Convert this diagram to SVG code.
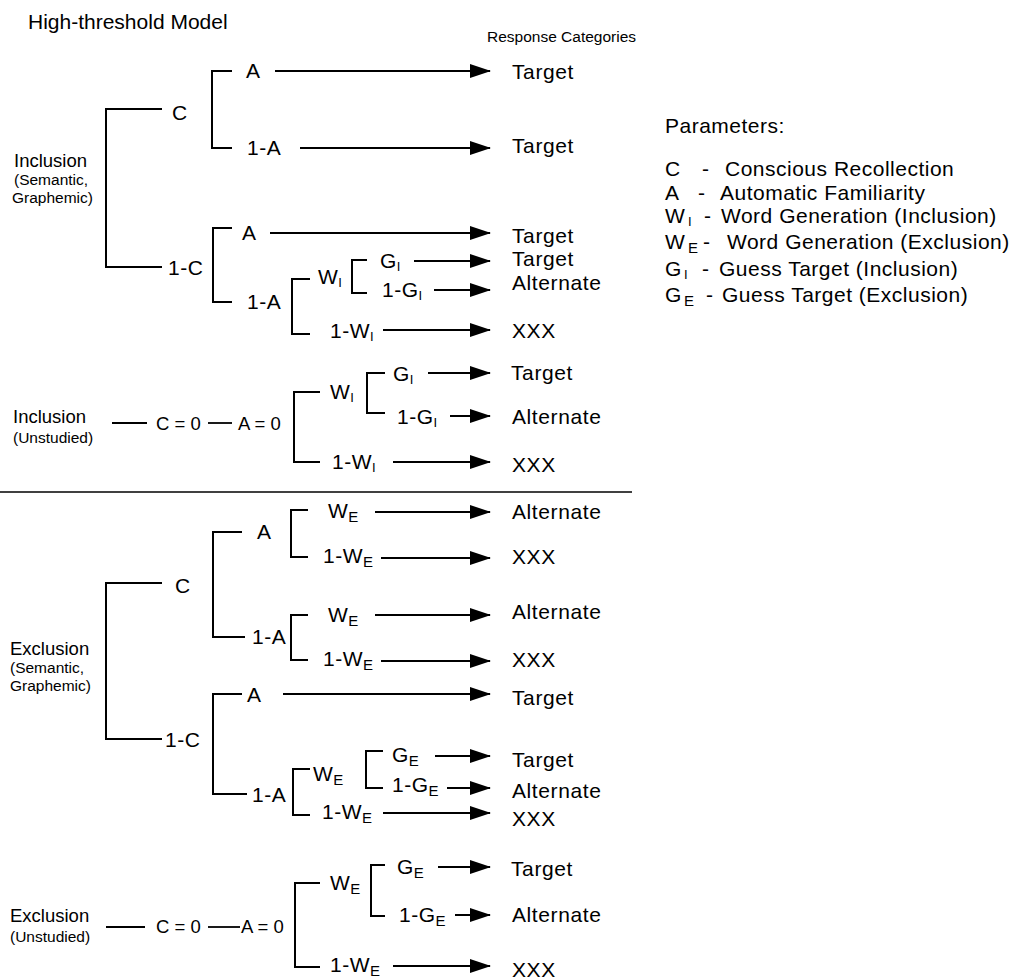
<svg xmlns="http://www.w3.org/2000/svg" width="1017" height="980" viewBox="0 0 1017 980">
<style>
text{font-family:"Liberation Sans",Arial,Helvetica,sans-serif;fill:#000}
.lb{font-size:21px;letter-spacing:0.5px}
.rs{font-size:21px;letter-spacing:0.6px}
.sm{font-size:18.5px}
.xs{font-size:15.5px}
.sub{font-size:13px}
.sube{font-size:15px}
.pr{font-size:21px;letter-spacing:0.5px}
.br{fill:none;stroke:#000;stroke-width:2}
.ln{fill:none;stroke:#000;stroke-width:1.8}
.ar{fill:none;stroke:#000;stroke-width:1.8;marker-end:url(#ah)}
</style>
<defs>
<marker id="ah" markerWidth="21" markerHeight="14" refX="20" refY="7" orient="auto" markerUnits="userSpaceOnUse"><path d="M0,0 L21,7 L0,14 z" fill="#000"/></marker>
</defs>
<rect width="1017" height="980" fill="#fff"/>
<g id="title"><text x="28" y="29" style="font-size:21px">High-threshold Model</text></g>
<g id="resp-header"><text x="487" y="42" style="font-size:15.5px">Response Categories</text></g>

<g id="connectors">
<!-- Inclusion studied -->
<path class="br" d="M162,109 H106 V267 H162"/>
<path class="br" d="M232,71 H212 V148 H232"/>
<path class="br" d="M232,228 H213 V302 H232"/>
<path class="br" d="M310,279 H292 V334 H310"/>
<path class="br" d="M367,260 H352 V293 H367"/>
<line class="ar" x1="275" y1="71" x2="490" y2="71"/>
<line class="ar" x1="300" y1="148" x2="490" y2="148"/>
<line class="ar" x1="270" y1="233" x2="490" y2="233"/>
<line class="ar" x1="414" y1="261" x2="490" y2="261"/>
<line class="ar" x1="434" y1="290" x2="490" y2="290"/>
<line class="ar" x1="383" y1="330" x2="490" y2="330"/>
<!-- Inclusion unstudied -->
<line class="ln" x1="112" y1="423" x2="147" y2="423"/>
<line class="ln" x1="208" y1="423" x2="232" y2="423"/>
<path class="br" d="M320,392 H294 V462 H320"/>
<path class="br" d="M385,373 H367 V413 H385"/>
<line class="ar" x1="428" y1="373" x2="490" y2="373"/>
<line class="ar" x1="450" y1="416" x2="490" y2="416"/>
<line class="ar" x1="393" y1="462" x2="490" y2="462"/>
<!-- separator -->
<line x1="0" y1="492" x2="632" y2="492" stroke="#000" stroke-width="1.5"/>
<!-- Exclusion studied -->
<path class="br" d="M162,583 H106 V739 H162"/>
<path class="br" d="M242,532 H213 V637 H245"/>
<path class="br" d="M308,510 H291 V557 H308"/>
<path class="br" d="M308,615 H291 V660 H308"/>
<line class="ar" x1="375" y1="512" x2="490" y2="512"/>
<line class="ar" x1="381" y1="558" x2="490" y2="558"/>
<line class="ar" x1="375" y1="615" x2="490" y2="615"/>
<line class="ar" x1="381" y1="661" x2="490" y2="661"/>
<path class="br" d="M242,694 H213 V794 H247"/>
<path class="br" d="M310,769 H293 V815 H310"/>
<path class="br" d="M383,751 H366 V788 H383"/>
<line class="ar" x1="283" y1="694" x2="490" y2="694"/>
<line class="ar" x1="435" y1="756" x2="490" y2="756"/>
<line class="ar" x1="447" y1="788" x2="490" y2="788"/>
<line class="ar" x1="383" y1="813" x2="490" y2="813"/>
<!-- Exclusion unstudied -->
<line class="ln" x1="106" y1="927" x2="145" y2="927"/>
<line class="ln" x1="208" y1="927" x2="240" y2="927"/>
<path class="br" d="M320,883 H295 V967 H320"/>
<path class="br" d="M385,865 H371 V916 H385"/>
<line class="ar" x1="438" y1="867" x2="490" y2="867"/>
<line class="ar" x1="455" y1="915" x2="490" y2="915"/>
<line class="ar" x1="393" y1="966" x2="490" y2="966"/>
</g>

<!-- Inclusion studied nodes -->
<g id="incl-studied"><text class="sm" x="14" y="167">Inclusion</text><text class="xs" x="14" y="185">(Semantic,</text><text class="xs" x="12" y="203">Graphemic)</text></g>
<g id="i-C"><text class="lb" x="172" y="120">C</text></g>
<g id="i-1C"><text class="lb" x="168" y="275">1-C</text></g>
<g id="i-C-A"><text class="lb" x="246" y="78">A</text></g>
<g id="i-C-1A"><text class="lb" x="247" y="155">1-A</text></g>
<g id="i-1C-A"><text class="lb" x="242" y="240">A</text></g>
<g id="i-1C-1A"><text class="lb" x="247" y="309">1-A</text></g>
<g id="i-WI"><text class="lb" x="318" y="284">W<tspan class="sub" dy="3">I</tspan></text></g>
<g id="i-GI"><text class="lb" x="380" y="268">G<tspan class="sub" dy="3">I</tspan></text></g>
<g id="i-1GI"><text class="lb" x="382" y="297">1-G<tspan class="sub" dy="3">I</tspan></text></g>
<g id="i-1WI"><text class="lb" x="330" y="338">1-W<tspan class="sub" dy="3">I</tspan></text></g>
<g id="r1"><text class="rs" x="512" y="79">Target</text></g>
<g id="r2"><text class="rs" x="512" y="153">Target</text></g>
<g id="r3"><text class="rs" x="512" y="243">Target</text></g>
<g id="r4"><text class="rs" x="512" y="266">Target</text></g>
<g id="r5"><text class="rs" x="512" y="289.5">Alternate</text></g>
<g id="r6"><text class="rs" x="512" y="338">XXX</text></g>

<!-- Inclusion unstudied -->
<g id="incl-unstudied"><text class="sm" x="13" y="423">Inclusion</text><text class="xs" x="13" y="443">(Unstudied)</text></g>
<g id="iu-C0"><text class="sm" x="156" y="430">C = 0</text></g>
<g id="iu-A0"><text class="sm" x="238" y="430">A = 0</text></g>
<g id="iu-WI"><text class="lb" x="330" y="399">W<tspan class="sub" dy="3">I</tspan></text></g>
<g id="iu-GI"><text class="lb" x="393" y="381">G<tspan class="sub" dy="3">I</tspan></text></g>
<g id="iu-1GI"><text class="lb" x="397" y="424">1-G<tspan class="sub" dy="3">I</tspan></text></g>
<g id="iu-1WI"><text class="lb" x="332" y="469">1-W<tspan class="sub" dy="3">I</tspan></text></g>
<g id="r7"><text class="rs" x="511" y="380">Target</text></g>
<g id="r8"><text class="rs" x="512" y="424">Alternate</text></g>
<g id="r9"><text class="rs" x="512" y="472">XXX</text></g>

<!-- Exclusion studied -->
<g id="excl-studied"><text class="sm" x="10" y="655">Exclusion</text><text class="xs" x="10" y="673">(Semantic,</text><text class="xs" x="10" y="691">Graphemic)</text></g>
<g id="e-C"><text class="lb" x="175" y="593">C</text></g>
<g id="e-1C"><text class="lb" x="165" y="747">1-C</text></g>
<g id="e-C-A"><text class="lb" x="257" y="539">A</text></g>
<g id="e-C-1A"><text class="lb" x="252" y="644">1-A</text></g>
<g id="e-A-WE"><text class="lb" x="328" y="518">W<tspan class="sube" dy="4">E</tspan></text></g>
<g id="e-A-1WE"><text class="lb" x="323" y="563">1-W<tspan class="sube" dy="4">E</tspan></text></g>
<g id="e-1A-WE"><text class="lb" x="328" y="622">W<tspan class="sube" dy="4">E</tspan></text></g>
<g id="e-1A-1WE"><text class="lb" x="323" y="666">1-W<tspan class="sube" dy="4">E</tspan></text></g>
<g id="r10"><text class="rs" x="512" y="519">Alternate</text></g>
<g id="r11"><text class="rs" x="512" y="564">XXX</text></g>
<g id="r12"><text class="rs" x="512" y="619">Alternate</text></g>
<g id="r13"><text class="rs" x="512" y="667">XXX</text></g>
<g id="e-1C-A"><text class="lb" x="247" y="702">A</text></g>
<g id="e-1C-1A"><text class="lb" x="252" y="802">1-A</text></g>
<g id="e-WE"><text class="lb" x="313" y="781">W<tspan class="sube" dy="4">E</tspan></text></g>
<g id="e-GE"><text class="lb" x="392" y="762">G<tspan class="sube" dy="4">E</tspan></text></g>
<g id="e-1GE"><text class="lb" x="392" y="792">1-G<tspan class="sube" dy="4">E</tspan></text></g>
<g id="e-1WE"><text class="lb" x="322" y="819">1-W<tspan class="sube" dy="4">E</tspan></text></g>
<g id="r14"><text class="rs" x="512" y="705">Target</text></g>
<g id="r15"><text class="rs" x="512" y="767">Target</text></g>
<g id="r16"><text class="rs" x="512" y="798">Alternate</text></g>
<g id="r17"><text class="rs" x="512" y="826">XXX</text></g>

<!-- Exclusion unstudied -->
<g id="excl-unstudied"><text class="sm" x="10" y="922">Exclusion</text><text class="xs" x="10" y="942">(Unstudied)</text></g>
<g id="eu-C0"><text class="sm" x="156" y="933">C = 0</text></g>
<g id="eu-A0"><text class="sm" x="241" y="933">A = 0</text></g>
<g id="eu-WE"><text class="lb" x="330" y="890">W<tspan class="sube" dy="4">E</tspan></text></g>
<g id="eu-GE"><text class="lb" x="397" y="874">G<tspan class="sube" dy="4">E</tspan></text></g>
<g id="eu-1GE"><text class="lb" x="399" y="922">1-G<tspan class="sube" dy="4">E</tspan></text></g>
<g id="eu-1WE"><text class="lb" x="330" y="972">1-W<tspan class="sube" dy="4">E</tspan></text></g>
<g id="r18"><text class="rs" x="511" y="876">Target</text></g>
<g id="r19"><text class="rs" x="512" y="922">Alternate</text></g>
<g id="r20"><text class="rs" x="512" y="977">XXX</text></g>

<!-- Parameters -->
<g id="parameters">
<text class="pr" x="665" y="133">Parameters:</text>
<text class="pr" y="176"><tspan x="665">C</tspan><tspan x="702">-</tspan><tspan x="725">Conscious Recollection</tspan></text>
<text class="pr" y="199.5"><tspan x="665">A</tspan><tspan x="698">-</tspan><tspan x="720">Automatic Familiarity</tspan></text>
<text class="pr" y="223"><tspan x="665">W</tspan><tspan x="688" class="sub" dy="3">I</tspan><tspan x="704" dy="-3">-</tspan><tspan x="721">Word Generation (Inclusion)</tspan></text>
<text class="pr" y="249"><tspan x="665">W</tspan><tspan x="688" class="sube" dy="4">E</tspan><tspan x="703" dy="-4">-</tspan><tspan x="727">Word Generation (Exclusion)</tspan></text>
<text class="pr" y="276"><tspan x="665">G</tspan><tspan x="684" class="sub" dy="3">I</tspan><tspan x="702" dy="-3">-</tspan><tspan x="719">Guess Target (Inclusion)</tspan></text>
<text class="pr" y="302"><tspan x="665">G</tspan><tspan x="684" class="sube" dy="4">E</tspan><tspan x="706" dy="-4">-</tspan><tspan x="722">Guess Target (Exclusion)</tspan></text>
</g>
</svg>
